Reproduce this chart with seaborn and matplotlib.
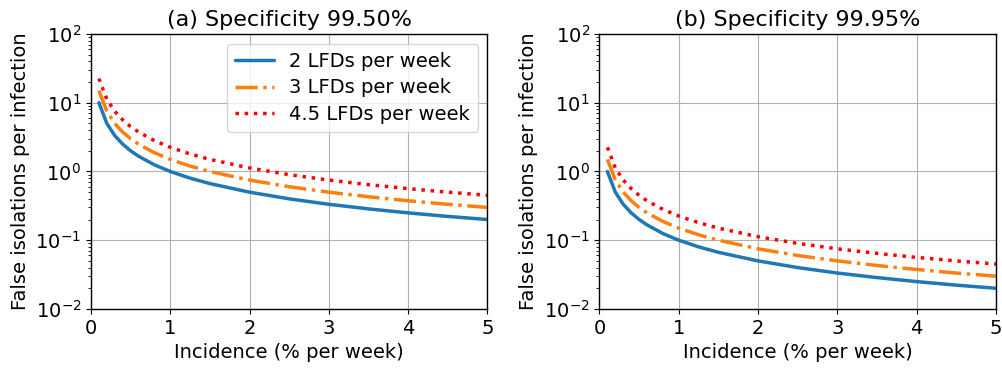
import matplotlib
matplotlib.use("Agg")
import matplotlib.pyplot as plt
from matplotlib.ticker import LogLocator, NullFormatter
import seaborn as sns
import pandas as pd

# Incidence (% per week) sample points
incidence = [0.1, 0.2, 0.3, 0.4, 0.5, 0.6, 0.8, 1.0, 1.25, 1.5, 2.0, 2.5, 3.0, 3.5, 4.0, 4.5, 5.0]

# False isolations per infection, specificity 99.50%
spec_a_2lfd = [10.0, 5.0, 3.33, 2.5, 2.0, 1.67, 1.25, 1.0, 0.8, 0.667, 0.5, 0.4, 0.333, 0.286, 0.25, 0.222, 0.2]
spec_a_3lfd = [15.0, 7.5, 5.0, 3.75, 3.0, 2.5, 1.875, 1.5, 1.2, 1.0, 0.75, 0.6, 0.5, 0.429, 0.375, 0.333, 0.3]
spec_a_45lfd = [22.5, 11.25, 7.5, 5.625, 4.5, 3.75, 2.81, 2.25, 1.8, 1.5, 1.125, 0.9, 0.75, 0.643, 0.5625, 0.5, 0.45]

# False isolations per infection, specificity 99.95%
spec_b_2lfd = [1.0, 0.5, 0.333, 0.25, 0.2, 0.167, 0.125, 0.1, 0.08, 0.0667, 0.05, 0.04, 0.0333, 0.0286, 0.025, 0.0222, 0.02]
spec_b_3lfd = [1.5, 0.75, 0.5, 0.375, 0.3, 0.25, 0.1875, 0.15, 0.12, 0.1, 0.075, 0.06, 0.05, 0.0429, 0.0375, 0.0333, 0.03]
spec_b_45lfd = [2.25, 1.125, 0.75, 0.5625, 0.45, 0.375, 0.281, 0.225, 0.18, 0.15, 0.1125, 0.09, 0.075, 0.0643, 0.05625, 0.05, 0.045]

titles = ["(a) Specificity 99.50%", "(b) Specificity 99.95%"]
series_labels = ["2 LFDs per week", "3 LFDs per week", "4.5 LFDs per week"]
colors = ["#1f77b4", "#ff7f0e", "red"]
styles = ["-", "-.", ":"]

panels = [
    [spec_a_2lfd, spec_a_3lfd, spec_a_45lfd],
    [spec_b_2lfd, spec_b_3lfd, spec_b_45lfd],
]

sns.set_style("ticks", {
    "text.color": "black",
    "axes.labelcolor": "black",
    "xtick.color": "black",
    "ytick.color": "black",
    "axes.edgecolor": "black",
})
plt.rcParams["font.family"] = ["DejaVu Sans"]

fig, axes = plt.subplots(1, 2, figsize=(10.03, 3.70), dpi=100)
fig.subplots_adjust(left=0.0907, right=0.993, top=0.908, bottom=0.165, wspace=0.2825)

for ax, title, series in zip(axes, titles, panels):
    for vals, lab, col, ls in zip(series, series_labels, colors, styles):
        df = pd.DataFrame({"incidence": incidence, "fi": vals})
        sns.lineplot(data=df, x="incidence", y="fi", ax=ax, color=col,
                     linestyle=ls, linewidth=2.5, label=lab, legend=False)
    ax.set_yscale("log")
    ax.set_xlim(0, 5)
    ax.set_ylim(1e-2, 1e2)
    ax.set_xticks([0, 1, 2, 3, 4, 5])
    ax.yaxis.set_minor_locator(LogLocator(base=10, subs=range(2, 10), numticks=20))
    ax.yaxis.set_minor_formatter(NullFormatter())
    ax.grid(True, which="major", color="#b0b0b0", linewidth=0.8)
    ax.set_title(title, fontsize=16, color="black")
    ax.set_xlabel("Incidence (% per week)", fontsize=14)
    ax.set_ylabel("False isolations per infection", fontsize=14)
    ax.tick_params(axis="both", which="major", labelsize=14, length=3.5, width=0.8)
    ax.tick_params(axis="y", which="minor", length=2, width=0.6)
    for s in ax.spines.values():
        s.set_color("black")
        s.set_linewidth(1.0)

axes[0].legend(loc="upper right", fontsize=14, frameon=True, handlelength=2.0,
               borderaxespad=0.5, labelspacing=0.4)

fig.savefig("out.png", dpi=100)
